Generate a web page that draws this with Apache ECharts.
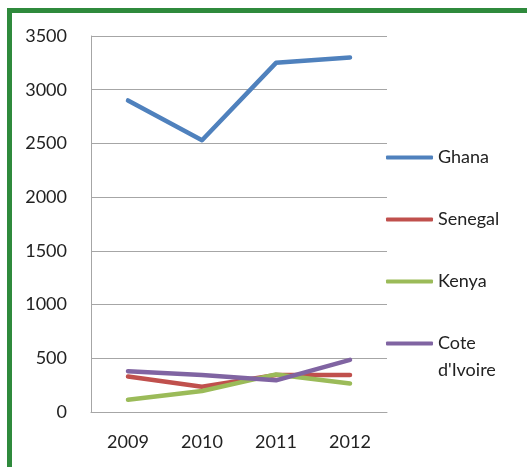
<!DOCTYPE html>
<html>
<head>
<meta charset="utf-8">
<script src="https://cdn.jsdelivr.net/npm/echarts@6/dist/echarts.min.js"></script>
<style>
  html, body { margin: 0; padding: 0; background: #fff; }
  #chart1 { width: 527px; height: 467px; }
</style>
</head>
<body>
<div id="chart1"></div>
<script>
const years = ["2009", "2010", "2011", "2012"];
const ghana = [2900, 2530, 3250, 3300];
const senegal = [330, 235, 345, 345];
const kenya = [115, 195, 350, 265];
const coteDIvoire = [380, 345, 295, 485];

const font = "Lato";
const textColor = "#222";

let myChart = echarts.init(document.getElementById("chart1"));

const line = (name, data, color) => ({
  name: name,
  type: "line",
  data: data,
  symbol: "none",
  color: color,
  lineStyle: { width: 4.5, color: color, cap: "round", join: "round" },
  emphasis: { disabled: true }
});

// every legend label is 3 lines tall, with the name on the middle line,
// so the line icon sits next to the first word of "Cote d'Ivoire"
const legendLabel = (name) => {
  const parts = name.split(" ");
  return parts.length > 1 ? "\n" + parts[0] + "\n" + parts.slice(1).join(" ") : "\n" + name + "\n";
};

myChart.setOption({
  animation: false,
  graphic: [
    {
      type: "rect",
      shape: { x: 9.5, y: 10.5, width: 560, height: 500 },
      style: { fill: "none", stroke: "#2f8a3c", lineWidth: 5 },
      silent: true
    }
  ],
  grid: { left: 91, right: 140, top: 36, bottom: 55 },
  legend: {
    orient: "vertical",
    left: 386,
    top: 117,
    padding: 0,
    itemWidth: 47,
    itemHeight: 4,
    itemGap: -19,
    icon: "roundRect",
    textStyle: { fontFamily: font, fontSize: 18, color: textColor, lineHeight: 27 },
    formatter: legendLabel,
    data: ["Ghana", "Senegal", "Kenya", "Cote d'Ivoire"]
  },
  xAxis: {
    type: "category",
    data: years,
    boundaryGap: true,
    axisLine: { lineStyle: { color: "#a6a6a6", width: 1 } },
    axisTick: { show: false },
    axisLabel: { fontFamily: font, fontSize: 18, color: textColor, margin: 21 }
  },
  yAxis: {
    type: "value",
    min: 0,
    max: 3500,
    interval: 500,
    axisLine: { show: true, lineStyle: { color: "#a6a6a6", width: 1 } },
    axisTick: { show: false },
    splitLine: { lineStyle: { color: "#a6a6a6", width: 1 } },
    axisLabel: { fontFamily: font, fontSize: 18, color: textColor, margin: 24, formatter: (v) => String(v) }
  },
  series: [
    line("Ghana", ghana, "#4f81bd"),
    line("Senegal", senegal, "#c0504d"),
    line("Kenya", kenya, "#9bbb59"),
    line("Cote d'Ivoire", coteDIvoire, "#8064a2")
  ]
});
</script>
</body>
</html>
